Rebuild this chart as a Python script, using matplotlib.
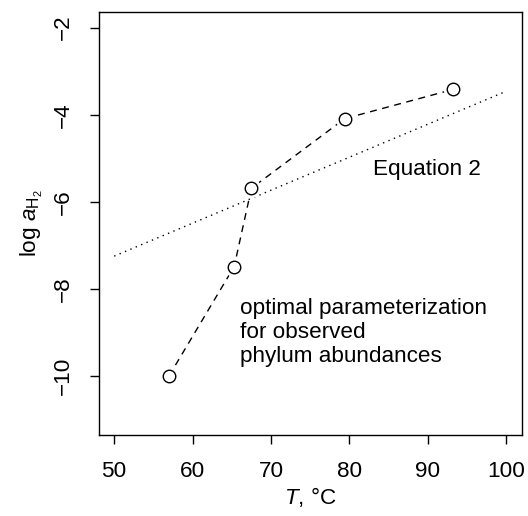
import matplotlib
matplotlib.use("Agg")
import matplotlib.pyplot as plt

plt.rcParams["font.family"] = ["Liberation Sans", "DejaVu Sans"]
plt.rcParams["mathtext.fontset"] = "custom"
plt.rcParams["mathtext.rm"] = "Liberation Sans"
plt.rcParams["mathtext.it"] = "Liberation Sans:italic"

# optimal parameterization (points joined by dashed line)
T_opt = [57.0, 65.3, 67.5, 79.4, 93.2]
loga_opt = [-10.0, -7.49, -5.69, -4.09, -3.42]

# Equation 2 (dotted line)
T_eq2 = [50.0, 100.0]
loga_eq2 = [-7.25, -3.46]

xticks = [50, 60, 70, 80, 90, 100]
yticks = [-10, -8, -6, -4, -2]

FS = 16.2

fig = plt.figure(figsize=(5.28, 5.16), dpi=100)
ax = fig.add_axes([98.5 / 528, 1 - 435 / 516, (522 - 98.5) / 528, (435 - 12) / 516])

ax.plot(T_eq2, loga_eq2, color="black", lw=1.0, linestyle=(0, (1, 3.2)), zorder=1)
ax.plot(T_opt, loga_opt, color="black", lw=1.0, linestyle=(0, (5, 4)), zorder=2)
# white halo leaves the small gap round each point, like R type="b"
ax.plot(T_opt, loga_opt, "o", ms=13, mfc="white", mec="white", zorder=3)
ax.plot(T_opt, loga_opt, "o", ms=9, mfc="white", mec="black", mew=1.0, zorder=4)

ax.text(83.0, -5.26, "Equation 2", fontsize=FS, ha="left", va="center")
ax.text(66.0, -9.0, "optimal parameterization\nfor observed\nphylum abundances",
        fontsize=FS, ha="left", va="center", linespacing=1.17)

ax.set_xlim(48, 102)
ax.set_ylim(-11.36, -1.64)
ax.set_xticks(xticks)
ax.set_yticks(yticks)
ax.set_yticklabels([f"\u2212{abs(v)}" for v in yticks], rotation=90, va="center")
ax.tick_params(direction="out", length=6.5, width=1.0, labelsize=FS)
ax.tick_params(axis="x", pad=12.5)
ax.tick_params(axis="y", pad=11)
for s in ax.spines.values():
    s.set_linewidth(1.0)

ax.set_xlabel(r"$T$, °C", fontsize=FS, labelpad=2)
ax.set_ylabel(r"$\mathrm{log}\ a_{\mathrm{H}_2}$", fontsize=FS, labelpad=6)

fig.savefig("out.png", dpi=100)
